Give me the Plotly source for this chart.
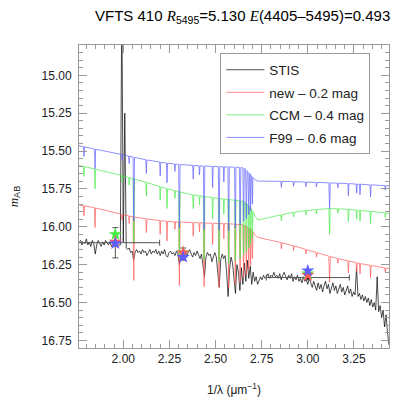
import numpy as np
import plotly.graph_objects as go

# STIS spectrum, regular grid in 1/lambda starting at 1.760 with step 0.008
stis_start = 1.760
stis_step = 0.008
stis_y = [
    16.10, 16.09, 16.12, 16.10, 16.11, 16.08, 16.12, 16.10, 16.13, 16.09,
    16.11, 16.18, 16.12, 16.09, 16.11, 16.13, 16.10, 16.12, 16.09, 16.11,
    16.12, 16.10, 16.13, 16.11, 16.12, 16.11, 16.13, 16.12, 16.12, 14.50,
    16.10, 15.25, 16.14, 16.15, 16.14, 16.17, 16.16, 16.22, 16.17, 16.15,
    16.17, 16.16, 16.18, 16.15, 16.17, 16.16, 16.19, 16.17, 16.15, 16.18,
    16.16, 16.17, 16.15, 16.18, 16.16, 16.19, 16.16, 16.18, 16.15, 16.19,
    16.20, 16.17, 16.16, 16.18, 16.17, 16.19, 16.16, 16.18, 16.25, 16.19,
    16.17, 16.18, 16.16, 16.19, 16.17, 16.15, 16.18, 16.20, 16.17, 16.19,
    16.16, 16.18, 16.21, 16.18, 16.24, 16.33, 16.20, 16.17, 16.19, 16.18,
    16.23, 16.20, 16.17, 16.20, 16.32, 16.40, 16.22, 16.18, 16.21, 16.19,
    16.30, 16.46, 16.28, 16.20, 16.24, 16.36, 16.44, 16.25, 16.30, 16.42,
    16.27, 16.38, 16.24, 16.36, 16.22, 16.34, 16.26, 16.38, 16.30, 16.36,
    16.33, 16.38, 16.35, 16.33, 16.35, 16.32, 16.34, 16.33, 16.31, 16.34,
    16.32, 16.33, 16.30, 16.33, 16.32, 16.34, 16.31, 16.35, 16.32, 16.30,
    16.33, 16.35, 16.32, 16.34, 16.31, 16.36, 16.33, 16.35, 16.32, 16.36,
    16.34, 16.37, 16.33, 16.36, 16.35, 16.38, 16.34, 16.37, 16.40, 16.36,
    16.39, 16.42, 16.37, 16.41, 16.38, 16.43, 16.39, 16.36, 16.41, 16.38,
    16.44, 16.40, 16.37, 16.42, 16.39, 16.44, 16.41, 16.38, 16.43, 16.40,
    16.45, 16.42, 16.39, 16.44, 16.41, 16.46, 16.43, 16.45, 16.27, 16.46,
    16.44, 16.48, 16.45, 16.49, 16.46, 16.50, 16.47, 16.52, 16.48, 16.53,
    16.50, 16.55, 16.33, 16.56, 16.52, 16.60, 16.55, 16.66, 16.58, 16.70,
    16.78,
]
stis_x = stis_start + stis_step * np.arange(len(stis_y))

# model spectra share one grid
model_x = [
    1.760,
    1.784, 1.787, 1.790,
    1.844, 1.847, 1.850,
    1.900, 1.950,
    1.991, 1.994, 1.997,
    2.029, 2.032, 2.035,
    2.053, 2.057, 2.061,
    2.122, 2.125, 2.128,
    2.160,
    2.197, 2.200, 2.203,
    2.234, 2.237, 2.240,
    2.277, 2.280, 2.283,
    2.300, 2.304, 2.308,
    2.340,
    2.376, 2.379, 2.382,
    2.410, 2.413, 2.416,
    2.434, 2.438, 2.442,
    2.481, 2.484, 2.487,
    2.515, 2.519, 2.523,
    2.542, 2.545, 2.548,
    2.567, 2.571, 2.575,
    2.603, 2.607, 2.611,
    2.629, 2.633, 2.637,
    2.648, 2.652, 2.656,
    2.663, 2.667, 2.671,
    2.676, 2.680, 2.684,
    2.687, 2.690, 2.693,
    2.697, 2.700, 2.703,
    2.715, 2.730, 2.780,
    2.854, 2.857, 2.860,
    2.920, 2.923, 2.926,
    2.987, 2.990, 2.993,
    3.044, 3.047, 3.050,
    3.080,
    3.114, 3.118, 3.122,
    3.160, 3.163, 3.166,
    3.217, 3.220, 3.223,
    3.262, 3.265, 3.268,
    3.280, 3.283, 3.286,
    3.337, 3.340, 3.343,
    3.390,
    3.417, 3.420, 3.423,
    3.440,
]

new_y = [
    15.855,
    15.861, 15.927, 15.862,
    15.874, 16.005, 15.876,
    15.890, 15.905,
    15.917, 15.958, 15.919,
    15.927, 15.978, 15.929,
    15.933, 16.354, 15.935,
    15.947, 16.038, 15.948,
    15.953,
    15.959, 16.050, 15.960,
    15.963, 16.094, 15.964,
    15.967, 16.017, 15.967,
    15.968, 16.388, 15.968,
    15.970,
    15.972, 16.062, 15.972,
    15.973, 16.033, 15.973,
    15.975, 16.395, 15.975,
    15.977, 16.117, 15.977,
    15.978, 16.398, 15.978,
    15.979, 16.079, 15.979,
    15.980, 16.400, 15.980,
    15.983, 16.383, 15.983,
    15.985, 16.365, 15.985,
    15.988, 16.338, 15.990,
    15.993, 16.315, 15.998,
    16.002, 16.285, 16.008,
    16.012, 16.255, 16.018,
    16.025, 16.210, 16.035,
    16.055, 16.070, 16.085,
    16.104, 16.145, 16.106,
    16.125, 16.156, 16.126,
    16.149, 16.180, 16.151,
    16.169, 16.200, 16.171,
    16.180,
    16.194, 16.365, 16.196,
    16.209, 16.240, 16.211,
    16.224, 16.305, 16.226,
    16.236, 16.297, 16.238,
    16.241, 16.312, 16.243,
    16.254, 16.335, 16.256,
    16.265,
    16.271, 16.302, 16.273,
    16.275,
]

ccm_y = [
    15.595,
    15.601, 15.667, 15.603,
    15.618, 15.749, 15.620,
    15.635, 15.650,
    15.662, 15.703, 15.664,
    15.674, 15.725, 15.676,
    15.683, 16.104, 15.685,
    15.706, 15.797, 15.708,
    15.720,
    15.734, 15.825, 15.736,
    15.748, 15.879, 15.750,
    15.761, 15.812, 15.763,
    15.768, 16.189, 15.770,
    15.780,
    15.789, 15.880, 15.790,
    15.795, 15.855, 15.796,
    15.799, 16.220, 15.800,
    15.807, 15.947, 15.808,
    15.812, 16.233, 15.814,
    15.816, 15.917, 15.817,
    15.819, 16.240, 15.821,
    15.824, 16.225, 15.825,
    15.827, 16.208, 15.829,
    15.831, 16.183, 15.834,
    15.841, 16.165, 15.848,
    15.855, 16.140, 15.865,
    15.870, 16.115, 15.880,
    15.888, 16.075, 15.900,
    15.930, 15.955, 15.940,
    15.921, 15.960, 15.920,
    15.905, 15.935, 15.905,
    15.893, 15.923, 15.893,
    15.886, 15.916, 15.886,
    15.883,
    15.880, 16.050, 15.880,
    15.881, 15.911, 15.881,
    15.885, 15.965, 15.885,
    15.890, 15.950, 15.890,
    15.892, 15.962, 15.892,
    15.898, 15.978, 15.898,
    15.904,
    15.908, 15.938, 15.908,
    15.910,
]

f99_y = [
    15.465,
    15.471, 15.536, 15.472,
    15.487, 15.617, 15.488,
    15.500, 15.512,
    15.523, 15.563, 15.524,
    15.533, 15.583, 15.534,
    15.540, 15.961, 15.542,
    15.557, 15.648, 15.559,
    15.565,
    15.572, 15.663, 15.574,
    15.579, 15.709, 15.580,
    15.585, 15.635, 15.586,
    15.588, 16.008, 15.589,
    15.592,
    15.595, 15.685, 15.595,
    15.597, 15.657, 15.597,
    15.599, 16.019, 15.599,
    15.601, 15.741, 15.601,
    15.603, 16.023, 15.603,
    15.604, 15.704, 15.604,
    15.605, 16.025, 15.605,
    15.607, 16.007, 15.607,
    15.608, 15.988, 15.609,
    15.611, 15.962, 15.614,
    15.620, 15.945, 15.630,
    15.635, 15.920, 15.645,
    15.650, 15.895, 15.660,
    15.665, 15.850, 15.675,
    15.690, 15.698, 15.700,
    15.700, 15.740, 15.700,
    15.702, 15.732, 15.702,
    15.705, 15.735, 15.705,
    15.707, 15.737, 15.707,
    15.708,
    15.710, 15.880, 15.710,
    15.712, 15.742, 15.712,
    15.715, 15.795, 15.715,
    15.718, 15.778, 15.718,
    15.719, 15.789, 15.719,
    15.723, 15.803, 15.723,
    15.726,
    15.728, 15.758, 15.728,
    15.730,
]

# photometry: observed (black, with error bars) and model synthetic mags (stars)
phot_x = [1.957, 2.325, 3.000]
phot_obs = [16.105, 16.18, 16.335]
phot_obs_yerr = [0.10, 0.04, 0.015]
phot_obs_xerr = [0.24, 0.0, 0.225]
phot_new = [16.10, 16.17, 16.32]
phot_ccm = [16.05, 16.17, 16.31]
phot_f99 = [16.11, 16.20, 16.29]

names = ["STIS", "new \u2013 0.2 mag", "CCM \u2013 0.4 mag", "F99 \u2013 0.6 mag"]
colors = ["black", "rgb(255,90,90)", "rgb(70,235,70)", "rgb(95,95,255)"]

fig = go.Figure()
fig.add_trace(go.Scatter(x=stis_x, y=stis_y, mode="lines", name=names[0],
                         legendgroup="g0", line=dict(color=colors[0], width=0.7)))
for k, (nm, col, yy) in enumerate(zip(names[1:], colors[1:], [new_y, ccm_y, f99_y])):
    fig.add_trace(go.Scatter(x=model_x, y=yy, mode="lines", name=nm,
                             legendgroup="g%d" % (k + 1),
                             line=dict(color=col, width=0.7)))

fig.add_trace(go.Scatter(
    x=phot_x, y=phot_obs, mode="markers", showlegend=False,
    marker=dict(color="black", size=4),
    error_y=dict(type="data", array=phot_obs_yerr, color="#555", thickness=1, width=3),
    error_x=dict(type="data", array=phot_obs_xerr, color="#555", thickness=1, width=3),
))
for col, yy in [(colors[2], phot_ccm), (colors[1], phot_new), (colors[3], phot_f99)]:
    fig.add_trace(go.Scatter(x=phot_x, y=yy, mode="markers", showlegend=False,
                             marker=dict(symbol="star", size=10, color=col,
                                         line=dict(width=0))))

axis_common = dict(
    showline=True, linecolor="#999", linewidth=1, mirror="allticks",
    ticks="inside", ticklen=8, tickcolor="#999", tickwidth=1,
    showgrid=False, zeroline=False,
    tickfont=dict(size=12, color="#222"),
)

fig.update_xaxes(
    range=[1.76, 3.44], tick0=2.0, dtick=0.25, tickformat=".2f",
    minor=dict(dtick=0.05, ticks="inside", ticklen=4, tickcolor="#999"),
    title=dict(text="1/\u03bb (\u03bcm<sup>\u22121</sup>)", font=dict(size=12), standoff=20),
    **axis_common,
)
fig.update_yaxes(
    range=[16.80, 14.80], tick0=15.0, dtick=0.25, tickformat=".2f",
    minor=dict(dtick=0.05, ticks="inside", ticklen=4, tickcolor="#999"),
    title=dict(text="<span style='font-family:Liberation Serif'><i>m</i></span><sub>AB</sub>",
               font=dict(size=13), standoff=20),
    ticklabelstandoff=4,
    **axis_common,
)

fig.add_annotation(
    text="VFTS 410 <span style='font-family:Liberation Serif'><i>R</i></span><sub>5495</sub>=5.130 "
         "<span style='font-family:Liberation Serif'><i>E</i></span>(4405\u20135495)=0.493",
    xref="paper", yref="paper", x=(87 - 73) / 316, y=(363 - 15) / 318,
    xanchor="left", yanchor="middle", showarrow=False,
    font=dict(size=15, color="black"),
)

fig.update_layout(
    width=407, height=407,
    margin=dict(l=73, r=18, t=45, b=44),
    paper_bgcolor="white", plot_bgcolor="white",
    font=dict(family="Liberation Sans, Arial, sans-serif", color="#222"),
    legend=dict(
        x=0.456, xanchor="left", y=0.972, yanchor="top",
        bordercolor="#999", borderwidth=1, bgcolor="white",
        font=dict(size=13.5, color="#222"), itemwidth=38,
        tracegroupgap=2,
    ),
)

fig.write_html("out.html", config={"displayModeBar": False},
               post_script="document.body.style.margin='0';")
